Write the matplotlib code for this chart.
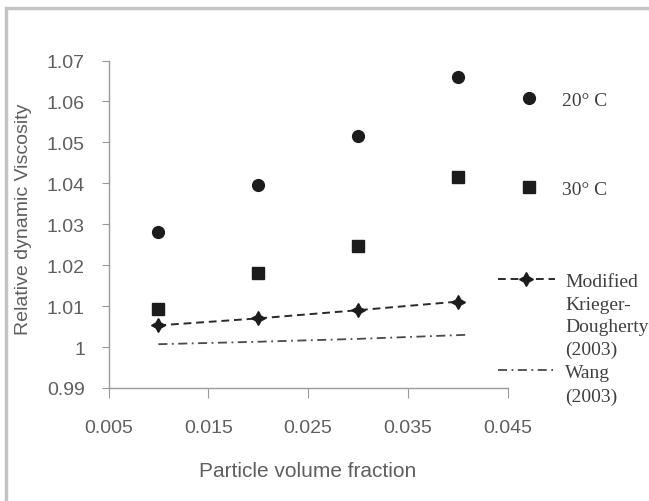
import numpy as np
import matplotlib.pyplot as plt
from matplotlib.patches import Rectangle
from matplotlib.ticker import FuncFormatter

# data
phi = [0.01, 0.02, 0.03, 0.04]
visc_20 = [1.0282, 1.0395, 1.0515, 1.0660]
visc_30 = [1.0094, 1.0181, 1.0248, 1.0415]
krieger = [1.0053, 1.0070, 1.0090, 1.0111]
wang_x = [0.01, 0.02, 0.03, 0.041]
wang = [1.0007, 1.0013, 1.0020, 1.0030]

xticks = [0.005, 0.015, 0.025, 0.035, 0.045]
yticks = [0.99, 1.0, 1.01, 1.02, 1.03, 1.04, 1.05, 1.06, 1.07]

W, H = 649, 502
fig = plt.figure(figsize=(W / 100, H / 100), dpi=100)
fig.patch.set_facecolor('white')
# axes box in pixels: x 108.5..507.5, y 61.5..389
ax = fig.add_axes([108.5 / W, 1 - 389 / H, 399 / W, 327.5 / H])

# outer chart frame (only top and left edges are visible)
fig.add_artist(Rectangle((6 / W, -0.1), 1.2, 1 - 9 / H + 0.1, transform=fig.transFigure,
                         fill=False, edgecolor='#c4c4c4', linewidth=2.5, clip_on=False))

h20, = ax.plot(phi, visc_20, 'o', color='#1c1c1c', markersize=8.5, linestyle='none')
h30, = ax.plot(phi, visc_30, 's', color='#1c1c1c', markersize=8.5, linestyle='none')
hkd, = ax.plot(phi, krieger, '--', color='#2a2a2a', linewidth=1.4, dashes=(4, 2.5),
               marker=(4, 1, 0), markersize=10, markerfacecolor='#1c1c1c',
               markeredgecolor='#1c1c1c')
hw, = ax.plot(wang_x, wang, '-.', color='#4a4a4a', linewidth=1.3, dashes=(5, 2.5, 1, 2.5))

ax.set_xlim(0.005, 0.045)
ax.set_ylim(0.99, 1.07)
ax.set_xticks(xticks)
ax.set_yticks(yticks)
ax.xaxis.set_major_formatter(FuncFormatter(lambda v, p: '%g' % round(v, 3)))
ax.yaxis.set_major_formatter(FuncFormatter(lambda v, p: '%g' % round(v, 2)))

for s in ['top', 'right']:
    ax.spines[s].set_visible(False)
for s in ['left', 'bottom']:
    ax.spines[s].set_color('#9a9a9a')
    ax.spines[s].set_linewidth(1.0)
ax.tick_params(axis='both', direction='out', color='#9a9a9a',
               labelcolor='#5f5f5f', labelsize=14)
ax.tick_params(axis='y', length=5, pad=12)
ax.tick_params(axis='x', length=7, pad=15)
for lab in ax.get_xticklabels() + ax.get_yticklabels():
    lab.set_family('Liberation Sans')

ax.set_xlabel('Particle volume fraction', fontsize=15, color='#5f5f5f',
              family='Liberation Sans')
ax.xaxis.set_label_coords(0.5, -0.223)
ax.set_ylabel('Relative dynamic Viscosity', fontsize=14, color='#5f5f5f',
              family='Liberation Sans')
ax.yaxis.set_label_coords(-0.192, 0.518)

# legend entries placed one by one, like the original
leg_font = dict(family='Liberation Serif', size=14)
entries = [
    # handle, label, left px, centre y px, handlelength, handletextpad
    (h20, '20° C', 518.6, 100.7, 1.05, 1.2),
    (h30, '30° C', 518.6, 190, 1.05, 1.2),
    (hkd, 'Modified', 498, 282, 2.93, 0.52),
    (hw, 'Wang', 498, 373, 2.93, 0.52),
]
for handle, label, xpix, ypix, hl, tp in entries:
    leg = fig.legend([handle], [label], loc='center left',
                     bbox_to_anchor=(xpix / W, 1 - ypix / H), frameon=False,
                     prop=leg_font, handlelength=hl, handletextpad=tp,
                     borderpad=0, borderaxespad=0, numpoints=1)
    for t in leg.get_texts():
        t.set_color('#404040')

extra = [('Krieger-', 305), ('Dougherty', 328), ('(2003)', 350), ('(2003)', 397)]
for txt, ypix in extra:
    fig.text(565 / W, 1 - ypix / H, txt, ha='left', va='center', color='#404040',
             **leg_font)

fig.savefig('out.png', dpi=100)
